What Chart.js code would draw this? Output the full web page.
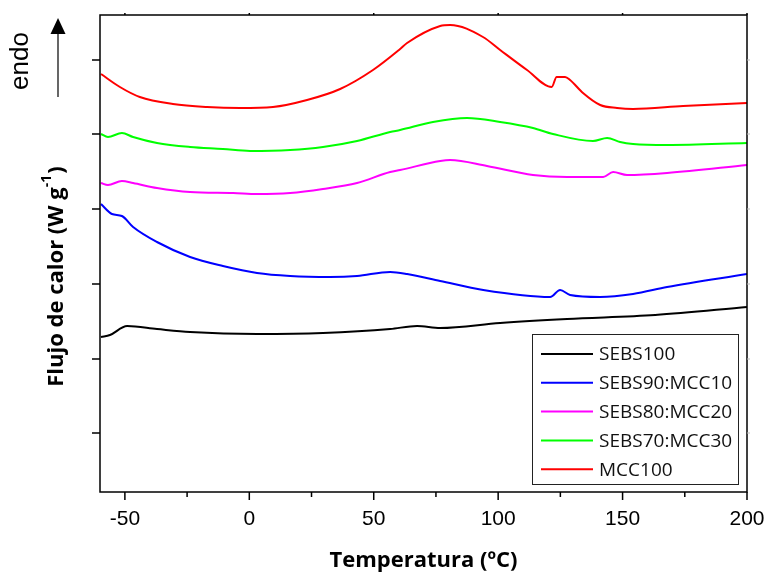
<!DOCTYPE html>
<html>
<head>
<meta charset="utf-8">
<script src="https://cdn.jsdelivr.net/npm/chart.js@4.4.0/dist/chart.umd.min.js"></script>
<style>
  body { margin: 0; background: #fff; }
  canvas { display: block; }
</style>
</head>
<body>
<canvas id="dsc" width="768" height="577"></canvas>
<script>
// temperatures (ºC) and heat flow (arbitrary offset units)
const seriesNames = ["SEBS100", "SEBS90:MCC10", "SEBS80:MCC20", "SEBS70:MCC30", "MCC100"];
const seriesColors = ["#000000", "#0000ff", "#ff00ff", "#00ff00", "#ff0000"];

const tSebs100 = [-59.6, -56, -49.1, -37.1, -23.8, 3.1, 29.6, 56.6, 67.4, 76.7, 100.8, 127.7, 163.1, 200];
const hSebs100 = [155, 157, 166, 163, 160, 158, 159, 163, 166, 164, 169, 173, 177, 185];

const tMcc10 = [-59.6, -55.2, -51.2, -46.7, -37.1, -23.8, -10.6, 3.1, 16.4, 32.4, 43.3, 56.6, 63.4, 76.7, 94, 120.9, 124.9, 128.9, 141, 154.2, 167.9, 200];
const hMcc10 = [288, 278, 276, 265, 250, 235, 226, 219, 216, 215, 216, 220, 218, 211, 202, 195, 202, 197, 195, 198, 205, 218];

const tMcc20 = [-59.6, -56.8, -51.2, -46.7, -37.1, -23.8, -6.5, 3.1, 16.4, 29.6, 43.3, 56.6, 60.6, 76.7, 80.7, 95.5, 114, 127.7, 142.2, 146.2, 151.8, 167.9, 200];
const hMcc20 = [309, 307, 311, 309, 304, 300, 299, 298, 299, 303, 309, 320, 322, 331, 332, 326, 317, 315, 315, 320, 317, 319, 327];

const tMcc30 = [-59.6, -56.8, -51.2, -46.7, -37.1, -23.8, -10.6, 0.3, 16.4, 29.6, 43.3, 56.6, 60.6, 73.8, 87.5, 100.8, 114, 122, 138.1, 143.8, 149, 154.2, 167.9, 200];
const hMcc30 = [358, 355, 359, 355, 349, 345, 343, 341, 342, 345, 351, 360, 362, 370, 374, 370, 364, 358, 351, 354, 350, 348, 347, 349];

const tMcc100 = [-59.6, -52, -44, -30.7, -17, -3.7, 9.5, 23.2, 36.5, 49.7, 60.6, 63.4, 76.7, 80.7, 93.9, 100.8, 111.6, 121.5, 123.5, 126.9, 128.9, 134.1, 141, 147.8, 154.2, 174.3, 200];
const hMcc100 = [418, 405, 395, 388, 385, 384, 385, 392, 403, 422, 443, 449, 466, 467, 455, 442, 422, 405, 415, 415, 412, 399, 387, 384, 383, 386, 389];

const xMajor = [-50, 0, 50, 100, 150, 200];
const xMinor = [-25, 25, 75, 125, 175];
const yTickVals = [59, 133, 208, 283, 358, 432];

const temps = [tSebs100, tMcc10, tMcc20, tMcc30, tMcc100];
const flows = [hSebs100, hMcc10, hMcc20, hMcc30, hMcc100];

const datasets = seriesNames.map((name, i) => ({
  label: name,
  data: temps[i].map((t, k) => ({ x: t, y: flows[i][k] })),
  borderColor: seriesColors[i],
  borderWidth: 2,
  pointRadius: 0,
  fill: false,
  cubicInterpolationMode: 'monotone'
}));

const decor = {
  id: 'decor',
  afterDraw(chart) {
    const ctx = chart.ctx;
    const a = chart.chartArea;
    const xs = chart.scales.x, ys = chart.scales.y;
    ctx.save();
    ctx.strokeStyle = '#000';
    ctx.fillStyle = '#000';

    // frame
    ctx.lineWidth = 1.5;
    ctx.strokeRect(a.left, a.top, a.right - a.left, a.bottom - a.top);

    // x ticks
    ctx.beginPath();
    xMajor.forEach(v => {
      const px = xs.getPixelForValue(v);
      ctx.moveTo(px, a.bottom); ctx.lineTo(px, a.bottom + 8);
      ctx.moveTo(px, a.top); ctx.lineTo(px, a.top - 2);
    });
    xMinor.forEach(v => {
      const px = xs.getPixelForValue(v);
      ctx.moveTo(px, a.bottom); ctx.lineTo(px, a.bottom + 5);
    });
    // y ticks
    yTickVals.forEach(v => {
      const py = ys.getPixelForValue(v);
      ctx.moveTo(a.left, py); ctx.lineTo(a.left - 8, py);
    });
    ctx.stroke();
    ctx.strokeStyle = '#bbb';
    ctx.lineWidth = 1;
    ctx.beginPath();
    yTickVals.forEach(v => {
      const py = ys.getPixelForValue(v);
      ctx.moveTo(a.right, py); ctx.lineTo(a.right + 3, py);
    });
    ctx.stroke();

    // x title
    ctx.fillStyle = '#000';
    ctx.textAlign = 'center';
    ctx.textBaseline = 'middle';
    ctx.font = 'bold 22px "Open Sans"';
    ctx.fillText('Temperatura (ºC)', (a.left + a.right) / 2, 561);

    // y title with superscript
    ctx.save();
    ctx.translate(57, 277);
    ctx.rotate(-Math.PI / 2);
    const main = 'Flujo de calor (W g';
    const sup = '-1';
    const end = ')';
    ctx.font = 'bold 22px "Open Sans"';
    const w1 = ctx.measureText(main).width;
    const w3 = ctx.measureText(end).width;
    ctx.font = 'bold 14px "Open Sans"';
    const w2 = ctx.measureText(sup).width;
    const x0 = -(w1 + w2 + w3) / 2;
    ctx.textAlign = 'left';
    ctx.font = 'bold 22px "Open Sans"';
    ctx.fillText(main, x0, 0);
    ctx.font = 'bold 14px "Open Sans"';
    ctx.fillText(sup, x0 + w1, -10);
    ctx.font = 'bold 22px "Open Sans"';
    ctx.fillText(end, x0 + w1 + w2 + 1, 0);
    ctx.restore();

    // endo arrow
    ctx.save();
    ctx.translate(21, 61);
    ctx.rotate(-Math.PI / 2);
    ctx.font = '26px "Liberation Sans"';
    ctx.textAlign = 'center';
    ctx.fillText('endo', 0, 0);
    ctx.restore();
    ctx.lineWidth = 1.2;
    ctx.strokeStyle = '#000';
    ctx.beginPath();
    ctx.moveTo(58, 97); ctx.lineTo(58, 30);
    ctx.stroke();
    ctx.beginPath();
    ctx.moveTo(58, 18); ctx.lineTo(50.5, 34); ctx.lineTo(65.5, 34);
    ctx.closePath();
    ctx.fill();

    // legend box
    ctx.lineWidth = 1;
    ctx.strokeStyle = '#222';
    ctx.fillStyle = '#fff';
    ctx.fillRect(532, 334, 206, 150);
    ctx.strokeRect(532.5, 334.5, 206, 150);
    ctx.font = '19px "Open Sans"';
    ctx.textAlign = 'left';
    ctx.textBaseline = 'middle';
    chart.data.datasets.forEach((ds, i) => {
      const yy = 354 + i * 28.8;
      ctx.strokeStyle = ds.borderColor;
      ctx.lineWidth = 2;
      ctx.beginPath();
      ctx.moveTo(541, yy); ctx.lineTo(593, yy);
      ctx.stroke();
      ctx.fillStyle = '#111';
      ctx.fillText(ds.label, 599, yy + 1);
    });
    ctx.restore();
  }
};

new Chart(document.getElementById('dsc'), {
  type: 'line',
  data: { datasets: datasets },
  plugins: [decor],
  options: {
    responsive: false,
    animation: false,
    devicePixelRatio: 1,
    layout: { padding: { left: 0, right: 0, top: 15, bottom: 0 } },
    plugins: { legend: { display: false }, tooltip: { enabled: false } },
    scales: {
      x: {
        type: 'linear',
        min: -60,
        max: 200,
        afterBuildTicks: s => { s.ticks = xMajor.map(v => ({ value: v })); },
        afterFit: s => { s.height = 85; s.paddingLeft = 0; s.paddingRight = 21; },
        grid: { display: true, drawOnChartArea: false, drawTicks: false },
        border: { display: false },
        ticks: {
          padding: 15,
          color: '#000',
          maxRotation: 0,
          font: { family: 'Liberation Sans', size: 21 }
        }
      },
      y: {
        type: 'linear',
        min: 0,
        max: 477,
        afterFit: s => { s.width = 100; s.paddingTop = 0; s.paddingBottom = 0; },
        grid: { display: false },
        border: { display: false },
        ticks: { display: false }
      }
    }
  }
});
</script>
</body>
</html>
